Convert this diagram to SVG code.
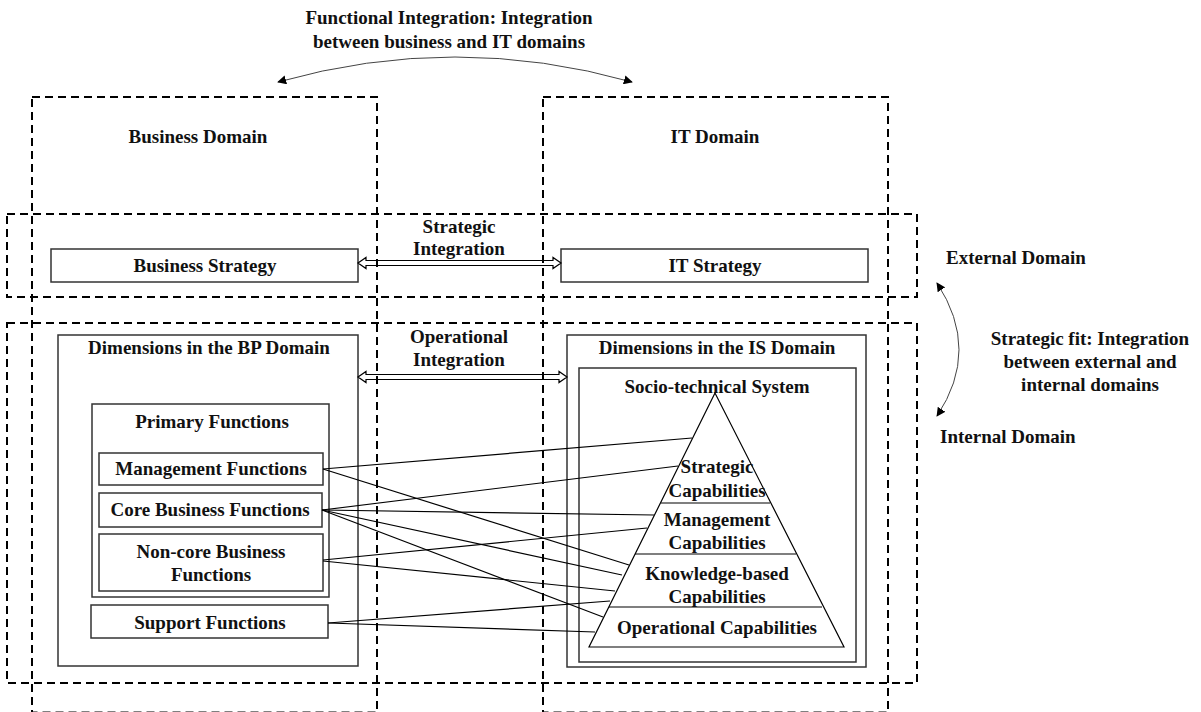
<svg xmlns="http://www.w3.org/2000/svg" width="1201" height="712" viewBox="0 0 1201 712">
<defs>
<marker id="ah" viewBox="0 0 10 10" refX="9" refY="5" markerWidth="9" markerHeight="9" markerUnits="userSpaceOnUse" orient="auto-start-reverse">
<path d="M0,0 L10,5 L0,10 z" fill="#000"/>
</marker>
<style>
.t{font-family:"Liberation Serif","Times New Roman",serif;font-weight:bold;font-size:19px;fill:#111;text-anchor:middle}
.ts{font-family:"Liberation Serif","Times New Roman",serif;font-weight:bold;font-size:19px;fill:#111;text-anchor:start}
.dash{fill:none;stroke:#000;stroke-width:2;stroke-dasharray:8 5}
.box{fill:none;stroke:#333;stroke-width:1.5}
.ln{fill:none;stroke:#000;stroke-width:1.2}
.dbl{fill:none;stroke:#000;stroke-width:1.2}
.arc{fill:none;stroke:#444;stroke-width:1}
</style>
</defs>
<rect width="1201" height="712" fill="#fff"/>

<g id="title">
<text class="t" x="449" y="24">Functional Integration: Integration</text>
<text class="t" x="449" y="48">between business and IT domains</text>
</g>

<g id="business-domain">
<rect class="dash" x="32" y="97" width="345" height="615.5"/>
<text class="t" x="198" y="143">Business Domain</text>
</g>
<g id="it-domain">
<rect class="dash" x="543" y="97" width="345" height="615.5"/>
<text class="t" x="715" y="143">IT Domain</text>
</g>
<g id="external-domain">
<rect class="dash" x="7" y="214" width="910" height="83"/>
<text class="ts" x="946" y="264">External Domain</text>
</g>
<g id="internal-domain">
<rect class="dash" x="7" y="323" width="910" height="360"/>
<text class="ts" x="940" y="443">Internal Domain</text>
</g>

<g id="business-strategy">
<rect class="box" x="51" y="249" width="307" height="33"/>
<text class="t" x="205" y="272">Business Strategy</text>
</g>
<g id="it-strategy">
<rect class="box" x="561" y="249" width="307" height="33"/>
<text class="t" x="715" y="272">IT Strategy</text>
</g>

<g id="bp-domain">
<rect class="box" x="58" y="335" width="300" height="331"/>
<text class="t" x="209" y="354">Dimensions in the BP Domain</text>
</g>
<g id="primary-functions">
<rect class="box" x="92" y="404" width="237" height="193"/>
<text class="t" x="212" y="428">Primary Functions</text>
</g>
<g id="management-functions">
<rect class="box" x="99" y="453" width="224" height="32"/>
<text class="t" x="211" y="475">Management Functions</text>
</g>
<g id="core-business-functions">
<rect class="box" x="99" y="493" width="223" height="34"/>
<text class="t" x="210" y="516">Core Business Functions</text>
</g>
<g id="noncore-business-functions">
<rect class="box" x="99" y="534" width="224" height="57"/>
<text class="t" x="211" y="558">Non-core Business</text>
<text class="t" x="211" y="581">Functions</text>
</g>
<g id="support-functions">
<rect class="box" x="91" y="605" width="237" height="33"/>
<text class="t" x="210" y="629">Support Functions</text>
</g>

<g id="is-domain">
<rect class="box" x="567" y="335" width="299" height="332"/>
<text class="t" x="717" y="354">Dimensions in the IS Domain</text>
</g>
<g id="socio-technical-system">
<rect class="box" x="579" y="368" width="277" height="294"/>
<text class="t" x="717" y="393">Socio-technical System</text>
</g>
<g id="pyramid">
<path class="ln" d="M715,393 L589,647 L844,647 Z"/>
<line class="ln" x1="661" y1="503" x2="770" y2="503"/>
<line class="ln" x1="635" y1="554" x2="796" y2="554"/>
<line class="ln" x1="609" y1="607" x2="822" y2="607"/>
<text class="t" x="717" y="473">Strategic</text>
<text class="t" x="717" y="497">Capabilities</text>
<text class="t" x="717" y="526">Management</text>
<text class="t" x="717" y="549">Capabilities</text>
<text class="t" x="717" y="580">Knowledge-based</text>
<text class="t" x="717" y="603">Capabilities</text>
<text class="t" x="717" y="634">Operational Capabilities</text>
</g>

<g id="labels">
<text class="t" x="459" y="233">Strategic</text>
<text class="t" x="459" y="255">Integration</text>
<text class="t" x="459" y="343">Operational</text>
<text class="t" x="459" y="366">Integration</text>
<text class="t" x="1090" y="345">Strategic fit: Integration</text>
<text class="t" x="1090" y="368">between external and</text>
<text class="t" x="1090" y="391">internal domains</text>
</g>

<g id="connectors">
<path class="arc" d="M278,82 Q455,32 632,82" marker-start="url(#ah)" marker-end="url(#ah)"/>
<path class="arc" d="M937,283 Q981,350 937,416" marker-start="url(#ah)" marker-end="url(#ah)"/>
<path class="dbl" d="M358,263 L366,257.5 L366,260.5 L553,260.5 L553,257.5 L561,263 L553,268.5 L553,265.5 L366,265.5 L366,268.5 Z"/>
<path class="dbl" d="M358,377 L366,371.5 L366,374.5 L559,374.5 L559,371.5 L567,377 L559,382.5 L559,379.5 L366,379.5 L366,382.5 Z"/>
<line class="ln" x1="323" y1="469" x2="692" y2="438"/>
<line class="ln" x1="323" y1="469" x2="629" y2="565"/>
<line class="ln" x1="322" y1="510" x2="678" y2="466"/>
<line class="ln" x1="322" y1="510" x2="654" y2="515"/>
<line class="ln" x1="322" y1="510" x2="622" y2="575"/>
<line class="ln" x1="322" y1="510" x2="603" y2="617"/>
<line class="ln" x1="323" y1="560" x2="647" y2="528"/>
<line class="ln" x1="323" y1="561" x2="615" y2="591"/>
<line class="ln" x1="328" y1="623" x2="610" y2="601"/>
<line class="ln" x1="328" y1="623" x2="595" y2="632"/>
</g>
</svg>
